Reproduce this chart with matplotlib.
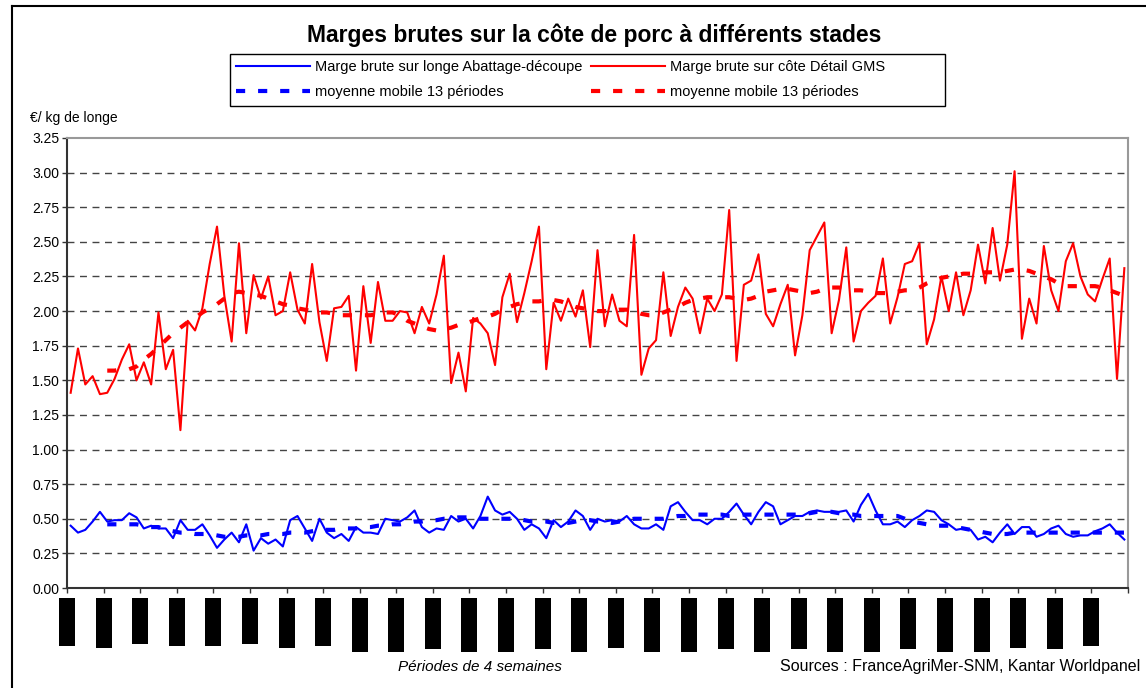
import numpy as np
import matplotlib
matplotlib.use("Agg")
import matplotlib.pyplot as plt
import matplotlib.transforms as mtransforms
from matplotlib.lines import Line2D
from matplotlib.patches import Rectangle
from matplotlib.ticker import FormatStrFormatter

plt.rcParams["font.family"] = ["Liberation Sans", "DejaVu Sans"]

title = "Marges brutes sur la côte de porc à différents stades"
label_blue = "Marge brute sur longe Abattage-découpe"
label_red = "Marge brute sur côte Détail GMS"
label_ma = "moyenne mobile 13 périodes"
y_unit = "€/ kg de longe"
x_title = "Périodes de 4 semaines"
source = "Sources : FranceAgriMer-SNM, Kantar Worldpanel"

# gross margin, retail (GMS) on pork chop, €/kg, one value per 4-week period
red_gms = [
    1.41, 1.73, 1.47, 1.53, 1.40, 1.41, 1.51, 1.65, 1.76, 1.50,
    1.63, 1.47, 1.99, 1.58, 1.72, 1.14, 1.93, 1.86, 2.02, 2.34,
    2.61, 2.11, 1.78, 2.49, 1.84, 2.26, 2.09, 2.25, 1.97, 2.00,
    2.28, 2.01, 1.91, 2.34, 1.92, 1.64, 2.02, 2.03, 2.11, 1.57,
    2.18, 1.77, 2.21, 1.93, 1.93, 2.00, 1.99, 1.84, 2.03, 1.91,
    2.12, 2.40, 1.48, 1.70, 1.42, 1.95, 1.91, 1.84, 1.61, 2.10,
    2.27, 1.92, 2.13, 2.36, 2.61, 1.58, 2.06, 1.93, 2.09, 1.96,
    2.15, 1.74, 2.44, 1.89, 2.12, 1.93, 1.89, 2.55, 1.54, 1.73,
    1.79, 2.28, 1.82, 2.03, 2.17, 2.09, 1.84, 2.09, 2.00, 2.12,
    2.73, 1.64, 2.19, 2.22, 2.41, 1.98, 1.89, 2.05, 2.19, 1.68,
    1.97, 2.44, 2.54, 2.64, 1.84, 2.08, 2.46, 1.78, 2.00, 2.06,
    2.11, 2.38, 1.91, 2.10, 2.34, 2.36, 2.49, 1.76, 1.94, 2.25,
    2.00, 2.28, 1.97, 2.15, 2.48, 2.20, 2.60, 2.22, 2.48, 3.01,
    1.80, 2.09, 1.91, 2.47, 2.15, 2.00, 2.36, 2.49, 2.25, 2.12,
    2.07, 2.23, 2.38, 1.51, 2.31,
]

# gross margin, slaughter-cutting on loin, €/kg
blue_abattage = [
    0.45, 0.40, 0.42, 0.48, 0.55, 0.48, 0.49, 0.49, 0.54, 0.51,
    0.43, 0.45, 0.43, 0.43, 0.36, 0.49, 0.42, 0.42, 0.46, 0.38,
    0.29, 0.35, 0.40, 0.33, 0.46, 0.27, 0.36, 0.32, 0.35, 0.30,
    0.49, 0.52, 0.43, 0.34, 0.50, 0.40, 0.36, 0.39, 0.34, 0.44,
    0.40, 0.40, 0.39, 0.50, 0.49, 0.48, 0.51, 0.56, 0.44, 0.40,
    0.43, 0.42, 0.52, 0.48, 0.50, 0.43, 0.52, 0.66, 0.56, 0.53,
    0.55, 0.50, 0.42, 0.46, 0.43, 0.36, 0.49, 0.44, 0.48, 0.56,
    0.52, 0.42, 0.50, 0.48, 0.49, 0.48, 0.52, 0.46, 0.43, 0.43,
    0.46, 0.42, 0.59, 0.62, 0.55, 0.49, 0.49, 0.46, 0.50, 0.50,
    0.55, 0.61, 0.53, 0.46, 0.55, 0.62, 0.59, 0.46, 0.49, 0.52,
    0.52, 0.55, 0.56, 0.55, 0.55, 0.55, 0.56, 0.48, 0.60, 0.68,
    0.56, 0.46, 0.46, 0.48, 0.44, 0.49, 0.52, 0.56, 0.55, 0.49,
    0.46, 0.42, 0.43, 0.42, 0.35, 0.37, 0.33, 0.40, 0.46, 0.39,
    0.44, 0.44, 0.37, 0.39, 0.43, 0.45, 0.39, 0.37, 0.38, 0.38,
    0.41, 0.43, 0.46, 0.40, 0.35,
]

# 13-period moving averages (start at period 5)
ma_start = 5
red_ma = [
    1.57, 1.57, 1.58, 1.58, 1.60, 1.65, 1.69, 1.74, 1.79, 1.84,
    1.88, 1.92, 1.95, 1.99, 2.02, 2.05, 2.09, 2.13, 2.14, 2.13,
    2.12, 2.11, 2.09, 2.07, 2.05, 2.04, 2.02, 2.01, 2.00, 1.99,
    1.99, 1.98, 1.97, 1.97, 1.97, 1.97, 1.97, 1.98, 1.99, 1.99,
    1.97, 1.93, 1.91, 1.89, 1.87, 1.86, 1.87, 1.88, 1.90, 1.91,
    1.93, 1.95, 1.96, 1.98, 2.01, 2.03, 2.05, 2.06, 2.07, 2.07,
    2.08, 2.08, 2.07, 2.05, 2.03, 2.02, 2.01, 2.00, 2.00, 2.00,
    2.01, 2.01, 2.00, 1.98, 1.97, 1.97, 1.99, 2.01, 2.03, 2.06,
    2.08, 2.09, 2.10, 2.10, 2.10, 2.10, 2.09, 2.08, 2.09, 2.11,
    2.14, 2.15, 2.16, 2.16, 2.15, 2.14, 2.13, 2.14, 2.16, 2.17,
    2.17, 2.16, 2.15, 2.15, 2.14, 2.13, 2.13, 2.13, 2.14, 2.15,
    2.15, 2.17, 2.20, 2.22, 2.24, 2.25, 2.26, 2.27, 2.27, 2.27,
    2.28, 2.28, 2.28, 2.29, 2.30, 2.30, 2.29, 2.27, 2.25, 2.23,
    2.20, 2.18, 2.18, 2.18, 2.18, 2.18, 2.17, 2.15, 2.13, 2.11,
]
blue_ma = [
    0.46, 0.46, 0.46, 0.46, 0.46, 0.45, 0.44, 0.44, 0.42, 0.41,
    0.40, 0.40, 0.39, 0.39, 0.39, 0.38, 0.37, 0.37, 0.37, 0.38,
    0.38, 0.38, 0.39, 0.39, 0.39, 0.40, 0.40, 0.40, 0.41, 0.42,
    0.42, 0.42, 0.43, 0.43, 0.43, 0.44, 0.44, 0.45, 0.45, 0.46,
    0.46, 0.47, 0.48, 0.48, 0.49, 0.49, 0.50, 0.50, 0.51, 0.51,
    0.51, 0.50, 0.50, 0.50, 0.50, 0.50, 0.50, 0.49, 0.48, 0.48,
    0.48, 0.47, 0.47, 0.47, 0.48, 0.49, 0.49, 0.48, 0.48, 0.47,
    0.48, 0.49, 0.50, 0.50, 0.50, 0.50, 0.50, 0.51, 0.52, 0.52,
    0.53, 0.53, 0.53, 0.53, 0.53, 0.52, 0.52, 0.53, 0.53, 0.53,
    0.53, 0.53, 0.53, 0.53, 0.53, 0.53, 0.54, 0.55, 0.55, 0.55,
    0.54, 0.53, 0.53, 0.52, 0.52, 0.52, 0.52, 0.52, 0.52, 0.50,
    0.48, 0.47, 0.46, 0.45, 0.45, 0.45, 0.44, 0.43, 0.42, 0.41,
    0.40, 0.39, 0.39, 0.39, 0.40, 0.40, 0.40, 0.40, 0.40, 0.40,
    0.40, 0.40, 0.40, 0.40, 0.40, 0.40, 0.40, 0.40, 0.40, 0.40,
]

# the period labels come out as solid black blocks in the source; lengths in px
label_block_len = [48, 50, 46, 48, 48, 46, 50, 48, 54, 54,
                   51, 54, 54, 51, 54, 50, 54, 54, 51, 54,
                   51, 54, 54, 51, 54, 54, 50, 51, 48]

W, H = 1146, 688
fig = plt.figure(figsize=(W / 100, H / 100), dpi=100)
ax = fig.add_axes([67 / W, 1 - 588 / H, 1061 / W, 450 / H])

x = np.arange(len(red_gms))
x_ma = np.arange(ma_start, ma_start + len(red_ma))

l_blue, = ax.plot(x, blue_abattage, color="#0000FF", lw=1.5, zorder=3)
l_red, = ax.plot(x, red_gms, color="#FF0000", lw=1.5, zorder=3)
ma_style = dict(lw=3, ls=(0, (2.2, 3.1)), dash_capstyle="butt", zorder=4)
l_bma, = ax.plot(x_ma, blue_ma, color="#0000FF", **ma_style)
l_rma, = ax.plot(x_ma, red_ma, color="#FF0000", **ma_style)

ax.set_xlim(-0.5, len(x) - 0.5)
ax.set_ylim(0, 3.25)
ax.set_yticks(np.arange(0, 3.26, 0.25))
ax.yaxis.set_major_formatter(FormatStrFormatter("%.2f"))
ax.set_xticks(np.arange(-0.5, len(x), 5))
ax.set_xticklabels([])
ax.tick_params(axis="x", direction="out", length=3.6, width=1, color="#333333")
ax.tick_params(axis="y", direction="out", length=3.6, width=1, color="#333333",
               labelsize=10, pad=2)

ax.yaxis.grid(True, ls=(0, (5, 4)), color="#444444", lw=1.0)
gl = ax.yaxis.get_gridlines()
gl[0].set_visible(False)
gl[-1].set_visible(False)
ax.set_axisbelow(True)

for side in ("left", "bottom"):
    ax.spines[side].set_color("#333333")
    ax.spines[side].set_linewidth(1.5)
for side in ("top", "right"):
    ax.spines[side].set_color("#999999")
    ax.spines[side].set_linewidth(1.5)

# black label blocks under each tick
trans = mtransforms.blended_transform_factory(ax.transData, ax.transAxes)
bw = 16 / (1061 / len(x))
for k, blen in enumerate(label_block_len):
    xt = -0.5 + 5 * k
    ax.add_patch(Rectangle((xt - bw / 2, -(10 + blen) / 450), bw, blen / 450,
                           transform=trans, clip_on=False, color="black", lw=0))

# outer chart frame (left and top edges only visible)
fig.add_artist(Line2D([12 / W, 12 / W], [0, 1 - 6 / H], transform=fig.transFigure,
                      color="black", lw=1.5))
fig.add_artist(Line2D([12 / W, 1], [1 - 6 / H, 1 - 6 / H], transform=fig.transFigure,
                      color="black", lw=1.5))

# legend box
fig.add_artist(Rectangle((230 / W, 1 - 106 / H), 715 / W, 52 / H, transform=fig.transFigure,
                         fill=False, ec="black", lw=1))
fig.legend([l_blue, l_bma, l_red, l_rma], [label_blue, label_ma, label_red, label_ma],
           ncol=2, loc="upper left", bbox_to_anchor=(236 / W, 1 - 60 / H),
           frameon=False, fontsize=10.5, handlelength=5.1, handletextpad=0.35,
           columnspacing=0.55, labelspacing=0.75, borderpad=0, borderaxespad=0)

fig.text(594 / W, 1 - 35 / H, title, ha="center", va="center", fontsize=16.5, fontweight="bold")
fig.text(30 / W, 1 - 118 / H, y_unit, ha="left", va="center", fontsize=10)
fig.text(480 / W, 1 - 667 / H, x_title, ha="center", va="center", fontsize=11, style="italic")
fig.text(780 / W, 1 - 667 / H, source, ha="left", va="center", fontsize=11.5)

fig.savefig("out.png", dpi=100)
